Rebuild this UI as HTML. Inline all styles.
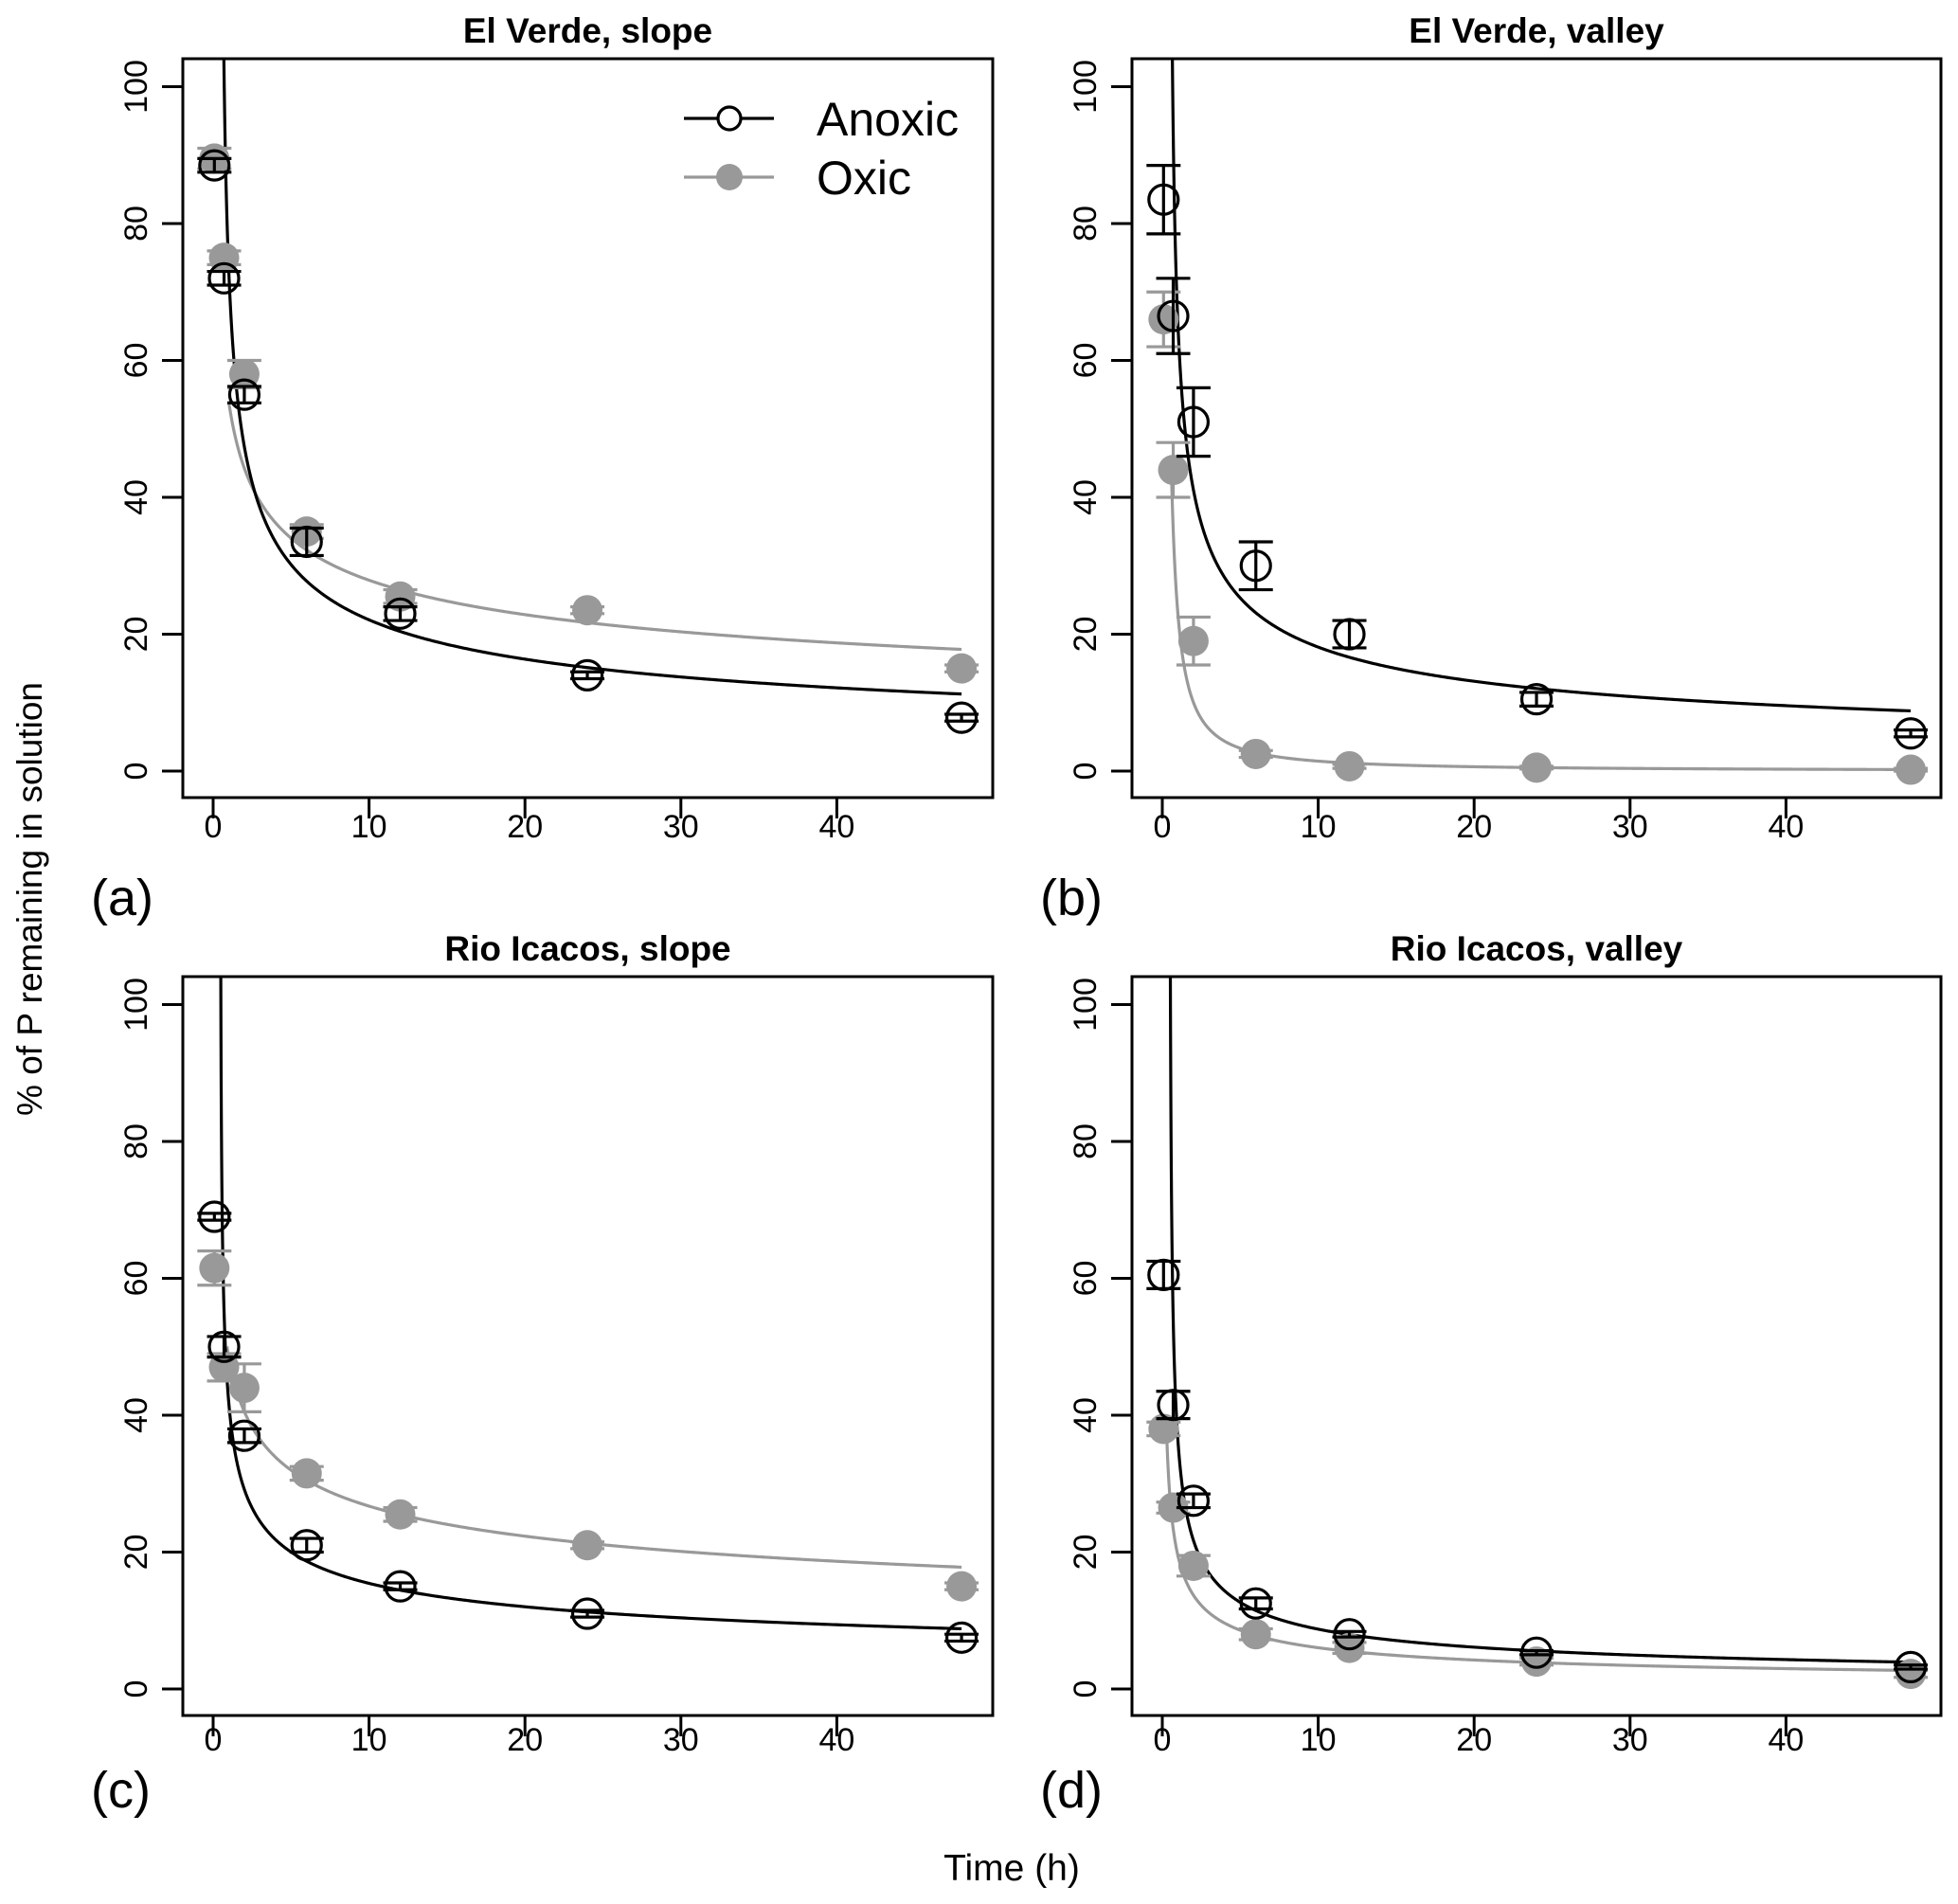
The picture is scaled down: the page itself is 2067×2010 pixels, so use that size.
<!DOCTYPE html>
<html><head><meta charset="utf-8"><style>
html,body{margin:0;padding:0;background:#fff;}
svg{display:block;font-family:"Liberation Sans",Arial,sans-serif;}
</style></head><body>
<svg id="chart" width="2067" height="2010" viewBox="0 0 2067 2010" xmlns="http://www.w3.org/2000/svg"></svg>
<script>
// Sampling times (h)
const times = [0.08, 0.7, 2, 6, 12, 24, 48];
// Panel titles & labels
const titles = ["El Verde, slope", "El Verde, valley", "Rio Icacos, slope", "Rio Icacos, valley"];
const letters = ["(a)", "(b)", "(c)", "(d)"];
const xTicks = [0, 10, 20, 30, 40];
const yTicks = [0, 20, 40, 60, 80, 100];
// Anoxic means and SE per panel
const anoxicA = [88.5, 72, 55, 33.5, 23, 14, 7.8];
const anoxicAErr = [1, 1, 1.2, 2, 1, 0.5, 0.5];
const oxicA = [89.5, 75, 58, 35, 25.5, 23.5, 15];
const oxicAErr = [1.5, 1, 2, 1, 1, 0.5, 0.5];
const anoxicB = [83.5, 66.5, 51, 30, 20, 10.5, 5.5];
const anoxicBErr = [5, 5.5, 5, 3.5, 2, 1, 0.5];
const oxicB = [66, 44, 19, 2.5, 0.7, 0.5, 0.2];
const oxicBErr = [4, 4, 3.5, 0.5, 0.3, 0.2, 0.2];
const anoxicC = [69, 50, 37, 21, 15, 11, 7.5];
const anoxicCErr = [0.5, 1.5, 1, 1, 0.5, 0.5, 0.5];
const oxicC = [61.5, 47, 44, 31.5, 25.5, 21, 15];
const oxicCErr = [2.5, 2, 3.5, 1, 1, 0.5, 0.5];
const anoxicD = [60.5, 41.5, 27.5, 12.5, 8, 5.3, 3.2];
const anoxicDErr = [2, 2, 1, 0.8, 0.4, 0.3, 0.3];
const oxicD = [38, 26.5, 18, 8, 6, 4, 2.2];
const oxicDErr = [1, 0.8, 1.5, 0.8, 0.8, 0.5, 0.5];
// Fitted power-law curve params y = a*(t-c)^-b : [a, b, c]
const fitAnoxic = [[57, 0.42, 0.45], [50, 0.45, 0.45], [34, 0.35, 0.45], [27, 0.5, 0.45]];
const fitOxic = [[54, 0.287, 0], [23, 1.2, 0], [48.5, 0.259, 0], [19.5, 0.51, 0]];
const oxicStart = [1.0, 0.6, 0.9, 0.3];

const anoxicSets = [anoxicA, anoxicB, anoxicC, anoxicD];
const anoxicErrs = [anoxicAErr, anoxicBErr, anoxicCErr, anoxicDErr];
const oxicSets = [oxicA, oxicB, oxicC, oxicD];
const oxicErrs = [oxicAErr, oxicBErr, oxicCErr, oxicDErr];

const NS = "http://www.w3.org/2000/svg";
const svg = document.getElementById("chart");
function mk(tag, attrs, parent) {
  const e = document.createElementNS(NS, tag);
  for (const k in attrs) e.setAttribute(k, attrs[k]);
  (parent || svg).appendChild(e);
  return e;
}
const GREY = "#999999";
const panelsGeo = [
  {L:193, R:1048, T:62, B:842, x0:225, y0:814},
  {L:1195, R:2049, T:62, B:842, x0:1227, y0:814},
  {L:193, R:1048, T:1031, B:1811, x0:225, y0:1783},
  {L:1195, R:2049, T:1031, B:1811, x0:1227, y0:1783}
];
const pxPerX = 16.46, pxPerY = 7.225;

panelsGeo.forEach((g, i) => {
  const grp = mk("g", {});
  
  
  const X = t => g.x0 + t * pxPerX;
  const Y = v => g.y0 - v * pxPerY;
  const clipId = "clip" + i;
  const cp = mk("clipPath", {id: clipId}, grp);
  mk("rect", {x: g.L, y: g.T, width: g.R - g.L, height: g.B - g.T}, cp);

  const title = mk("text", {x: (g.L + g.R) / 2, y: g.T - 17, "text-anchor": "middle", "font-size": 37, "font-weight": "bold"}, grp);
  title.textContent = titles[i];
  
  

  const row = i < 2 ? 0 : 1;
  const lab = mk("text", {x: g.L - 97, y: row ? 1908 : 966, "font-size": 54}, grp);
  lab.textContent = letters[i];
  
  

  // x axis
  const xa = mk("g", {}, grp);
  
  
  xTicks.forEach(t => {
    mk("line", {x1: X(t), x2: X(t), y1: g.B, y2: g.B + 22, stroke: "#000", "stroke-width": 3}, xa);
    const tl = mk("text", {x: X(t), y: row ? 1848 : 884, "text-anchor": "middle", "font-size": 34}, xa);
    tl.textContent = t;
    
    
  });
  // y axis
  const ya = mk("g", {}, grp);
  
  
  yTicks.forEach(v => {
    mk("line", {x1: g.L - 22, x2: g.L, y1: Y(v), y2: Y(v), stroke: "#000", "stroke-width": 3}, ya);
    const tx = g.L - 38;
    const tl = mk("text", {x: tx, y: Y(v), "text-anchor": "middle", "font-size": 34, transform: `rotate(-90 ${tx} ${Y(v)})`}, ya);
    tl.textContent = v;
    
    
  });

  const plot = mk("g", {"clip-path": `url(#${clipId})`}, grp);
  // fitted curves
  function curve(par, tStart, color, name) {
    const [a, b, c] = par;
    let d = "";
    const N = 600;
    for (let k = 0; k <= N; k++) {
      const t = tStart + (48 - tStart) * Math.pow(k / N, 2.5);
      const tt = Math.max(t - c, 1e-4);
      let v = a * Math.pow(tt, -b);
      if (v > 200) v = 200;
      d += (k ? "L" : "M") + X(t).toFixed(2) + "," + Y(v).toFixed(2);
    }
    const p = mk("path", {d, fill: "none", stroke: color, "stroke-width": 3.2}, plot);
    
    
  }
  curve(fitOxic[i], oxicStart[i], GREY, 'oxic-fit-curve');
  curve(fitAnoxic[i], fitAnoxic[i][2] + 0.0001, "#000", 'anoxic-fit-curve');

  function points(vals, errs, color, filled, name) {
    vals.forEach((v, k) => {
      const x = X(times[k]), y = Y(v);
      const e = errs[k];
      const pg = mk("g", {}, plot);
      
      
      mk("line", {x1: x, x2: x, y1: Y(v + e), y2: Y(v - e), stroke: color, "stroke-width": 3.2}, pg);
      mk("line", {x1: x - 18, x2: x + 18, y1: Y(v + e), y2: Y(v + e), stroke: color, "stroke-width": 3.2}, pg);
      mk("line", {x1: x - 18, x2: x + 18, y1: Y(v - e), y2: Y(v - e), stroke: color, "stroke-width": 3.2}, pg);
      if (filled) mk("circle", {cx: x, cy: y, r: 16, fill: color}, pg);
      else mk("circle", {cx: x, cy: y, r: 15.5, fill: "none", stroke: color, "stroke-width": 3.2}, pg);
    });
  }
  points(oxicSets[i], oxicErrs[i], GREY, true, 'oxic-point');
  points(anoxicSets[i], anoxicErrs[i], "#000", false, 'anoxic-point');

  const box = mk("rect", {x: g.L, y: g.T, width: g.R - g.L, height: g.B - g.T, fill: "none", stroke: "#000", "stroke-width": 3}, grp);
  
  
});

// legend
const lg = mk("g", {});


const legItems = [["Anoxic", "#000", false, 125], ["Oxic", GREY, true, 187]];
legItems.forEach(([txt, col, filled, y]) => {
  const eg = mk("g", {}, lg);
  
  
  mk("line", {x1: 722, x2: 817, y1: y, y2: y, stroke: col, "stroke-width": 3.2}, eg);
  if (filled) mk("circle", {cx: 770, cy: y, r: 14, fill: col}, eg);
  else mk("circle", {cx: 770, cy: y, r: 12, fill: "#fff", stroke: col, "stroke-width": 3.2}, eg);
  const t = mk("text", {x: 862, y: y + 18, "font-size": 50}, eg);
  t.textContent = txt;
});

const yt = mk("text", {x: 44, y: 949, "text-anchor": "middle", "font-size": 37, transform: "rotate(-90 44 949)"});
yt.textContent = "% of P remaining in solution";


const xt = mk("text", {x: 1068, y: 1985, "text-anchor": "middle", "font-size": 39});
xt.textContent = "Time (h)";


</script>
</body></html>
